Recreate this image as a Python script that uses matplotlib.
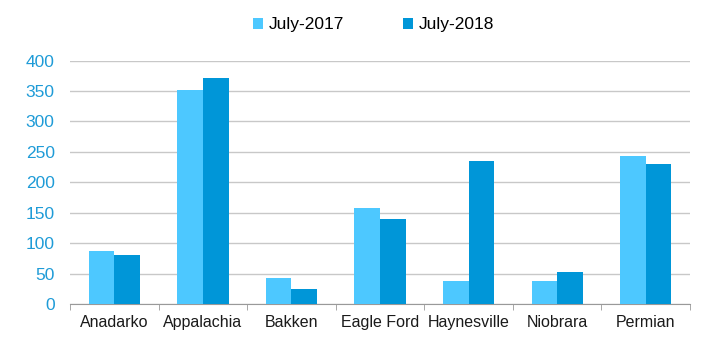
import matplotlib.pyplot as plt
import numpy as np

plt.rcParams['font.family'] = ['Liberation Sans', 'DejaVu Sans']

basins = ["Anadarko", "Appalachia", "Bakken", "Eagle Ford", "Haynesville", "Niobrara", "Permian"]
july_2017 = [87, 352, 43, 158, 38, 37, 243]
july_2018 = [80, 371, 25, 140, 235, 52, 230]

light_blue = '#4dc8ff'
dark_blue = '#0096d8'

fig = plt.figure(figsize=(7.02, 3.37), dpi=100)
ax = fig.add_axes([0.0997, 0.098, 0.8833, 0.722])

x = np.arange(len(basins))
w = 0.29
ax.bar(x - w / 2, july_2017, w, color=light_blue, label='July-2017', zorder=3)
ax.bar(x + w / 2, july_2018, w, color=dark_blue, label='July-2018', zorder=3)

ax.set_xlim(-0.5, len(basins) - 0.5)
ax.set_ylim(0, 400)
ax.set_yticks(range(0, 401, 50))
ax.grid(axis='y', color='#c8c8c8', linewidth=1, zorder=0)

ax.set_xticks(x)
ax.set_xticklabels(basins, fontsize=11.5, color='#1a1a1a')
ax.set_xticks(np.arange(len(basins) + 1) - 0.5, minor=True)
ax.tick_params(axis='x', which='major', length=0, pad=8)
ax.tick_params(axis='x', which='minor', length=4, color='#999999', direction='out')
ax.tick_params(axis='y', length=0, labelsize=12.5, labelcolor='#1e9bd7', pad=11)

for s in ['top', 'right', 'left']:
    ax.spines[s].set_visible(False)
ax.spines['bottom'].set_color('#999999')

fig.legend(loc='upper center', bbox_to_anchor=(0.532, 0.995), ncol=2, frameon=False,
           fontsize=12.5, handlelength=0.6, handleheight=0.6, handletextpad=0.3, columnspacing=3.4)

fig.savefig('out.png', dpi=100)
